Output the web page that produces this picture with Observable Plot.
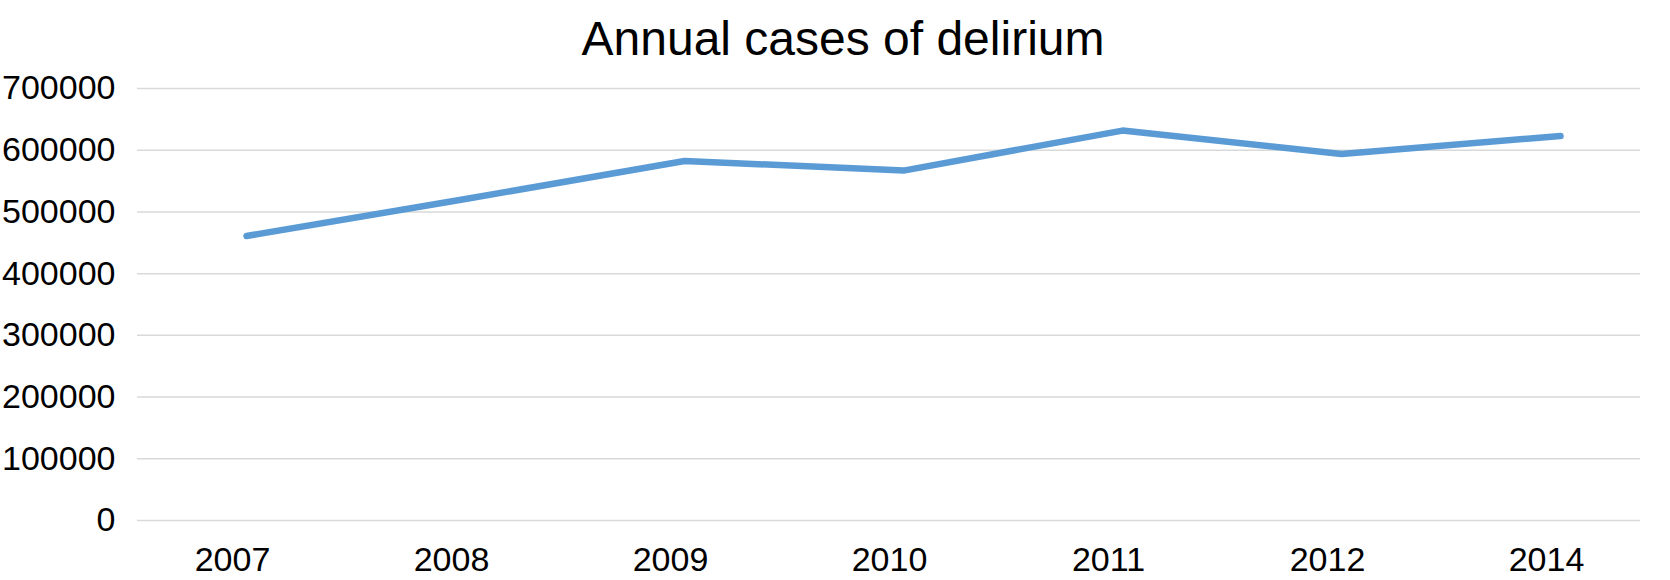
<!DOCTYPE html>
<html>
<head>
<meta charset="utf-8">
<script src="https://cdn.jsdelivr.net/npm/d3@7"></script>
<script src="https://cdn.jsdelivr.net/npm/@observablehq/plot@0.6"></script>
<style>
  html, body { margin: 0; padding: 0; background: #fff; }
  body { width: 1670px; height: 580px; overflow: hidden; font-family: "Liberation Sans", Arial, Helvetica, sans-serif; }
  #title { position: relative; top: 15px; height: 48px; padding-left: 16px; text-align: center; font-size: 48px; line-height: 48px; color: #000; white-space: nowrap; z-index: 1; }
  #chart svg { overflow: visible; }
</style>
</head>
<body>
<div id="title">Annual cases of delirium</div>
<div id="chart"></div>
<script>
const years = ["2007", "2008", "2009", "2010", "2011", "2012", "2014"];
const cases = [461000, 521000, 582600, 567000, 631800, 594000, 623000];
const yTicks = [0, 100000, 200000, 300000, 400000, 500000, 600000, 700000];

const data = years.map((year, i) => ({year, cases: cases[i]}));

const chart = Plot.plot({
  width: 1670,
  height: 532,
  marginTop: 40,
  marginBottom: 60,
  marginLeft: 137,
  marginRight: 30,
  style: {fontFamily: "'Liberation Sans', Arial, Helvetica, sans-serif", fontSize: "34px", color: "#000", background: "transparent"},
  x: {type: "point", domain: years, range: [246, 1560], padding: 0},
  y: {domain: [0, 700000]},
  marks: [
    Plot.ruleY(yTicks, {stroke: "#d9d9d9", strokeWidth: 1.5}),
    Plot.axisY({ticks: yTicks, tickSize: 0, tickPadding: 22, tickFormat: d => String(d), fontSize: 34, label: null}),
    Plot.axisX({tickSize: 0, tickPadding: 26, dx: -14, fontSize: 34, label: null}),
    Plot.line(data, {x: "year", y: "cases", stroke: "#5B9BD5", strokeWidth: 6.5, strokeLinecap: "round", strokeLinejoin: "round"})
  ]
});
document.getElementById("chart").appendChild(chart);
</script>
</body>
</html>
